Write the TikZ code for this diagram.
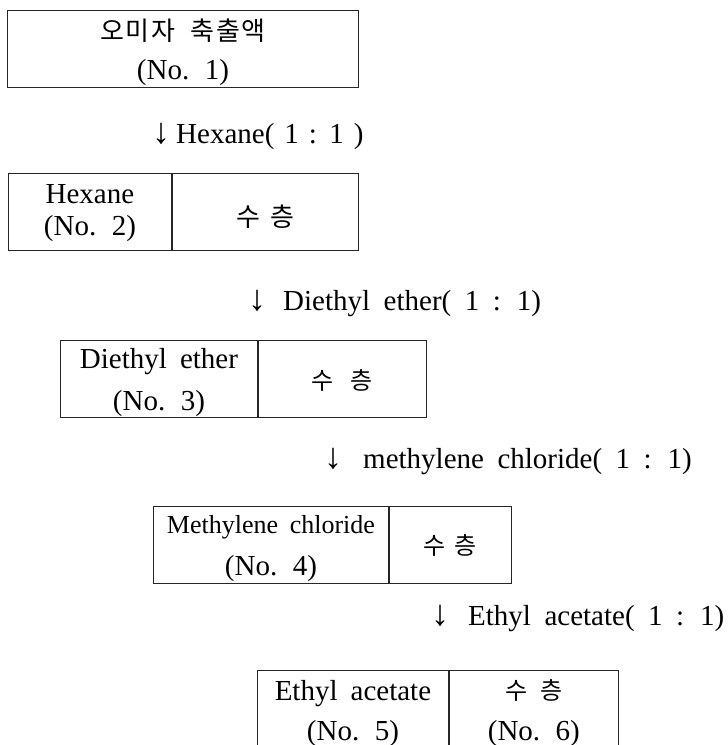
\documentclass[tikz,border=0pt]{standalone}
\usepackage{fontspec}
\setmainfont[WordSpace=1.8]{Liberation Serif}
\newfontfamily\kr{Noto Sans CJK KR}
\newcommand\dnarrow{{\fontsize{36}{36}\selectfont ↓}}
\newcommand\lblfontA{\fontsize{29}{32}\selectfont\spaceskip 10pt\relax}
\newcommand\lblfontB{\fontsize{29}{32}\selectfont\spaceskip 13.5pt\relax}
\newcommand\krA{\kr\fontsize{26}{30}\selectfont}
\newcommand\krB{\kr\fontsize{24}{28}\selectfont}
\begin{document}
\begin{tikzpicture}[x=1pt,y=-1pt,
  cell/.style={draw=black!85, line width=0.9pt, inner sep=0pt, anchor=north west},
  txt/.style={anchor=base, inner sep=0pt, font=\fontsize{29}{32}\selectfont},
  lbl/.style={anchor=base west, inner sep=0pt, font=\lblfontB}]
\useasboundingbox (0,0) rectangle (728,745);
\clip (0,0) rectangle (728,745);
% box 1
\node[cell, minimum width=351pt, minimum height=77pt] (b1) at (7,10) {};
\node[txt, font=\krA] (t1a) at (b1.center |- 0,40) {오\hspace{1.5pt}미\hspace{1.5pt}자\hspace{16pt}축\hspace{1.5pt}출\hspace{1.5pt}액};
\node[txt] (t1b) at (b1.center |- 0,79) {(No. 1)};
\node[lbl, font=\lblfontA] (l1) at (152,143) {\dnarrow\hspace{6pt}Hexane( 1 : 1 )};
% box 2
\node[cell, minimum width=163pt, minimum height=77pt] (b2a) at (8,173) {};
\node[cell, minimum width=186pt, minimum height=77pt] (b2b) at (b2a.north east) {};
\node[txt] (t2a) at (b2a.center |- 0,203) {Hexane};
\node[txt] (t2b) at (b2a.center |- 0,235) {(No. 2)};
\node[txt, font=\krA] (t2c) at (b2b.center |- 0,226) {수\hspace{10pt}층};
\node[lbl] (l2) at (248,310) {\dnarrow\hspace{17pt}Diethyl ether( 1 : 1)};
% box 3
\node[cell, minimum width=197pt, minimum height=77pt] (b3a) at (60,340) {};
\node[cell, minimum width=168pt, minimum height=77pt] (b3b) at (b3a.north east) {};
\node[txt] (t3a) at (b3a.center |- 0,368) {Diethyl ether};
\node[txt] (t3b) at (b3a.center |- 0,410) {(No. 3)};
\node[txt, font=\krB] (t3c) at (b3b.center |- 0,389) {수\hspace{17pt}층};
\node[lbl] (l3) at (324,468) {\dnarrow\hspace{21pt}methylene chloride( 1 : 1)};
% box 4
\node[cell, minimum width=235pt, minimum height=77pt] (b4a) at (153,506) {};
\node[cell, minimum width=122pt, minimum height=77pt] (b4b) at (b4a.north east) {};
\node[txt, font=\fontsize{26}{30}\selectfont] (t4a) at (b4a.center |- 0,533) {Methylene chloride};
\node[txt] (t4b) at (b4a.center |- 0,575) {(No. 4)};
\node[txt, font=\krB] (t4c) at (b4b.center |- 0,554) {수\hspace{9pt}층};
\node[lbl] (l4) at (431,625) {\dnarrow\hspace{19pt}Ethyl acetate( 1 : 1)};
% box 5
\node[cell, minimum width=191pt, minimum height=84pt] (b5a) at (257,670) {};
\node[cell, minimum width=169pt, minimum height=84pt] (b5b) at (b5a.north east) {};
\node[txt] (t5a) at (b5a.center |- 0,700) {Ethyl acetate};
\node[txt] (t5b) at (b5a.center |- 0,740) {(No. 5)};
\node[txt, font=\krB] (t5c) at (b5b.center |- 0,699) {수\hspace{13pt}층};
\node[txt] (t5d) at (b5b.center |- 0,740) {(No. 6)};
\end{tikzpicture}
\end{document}
